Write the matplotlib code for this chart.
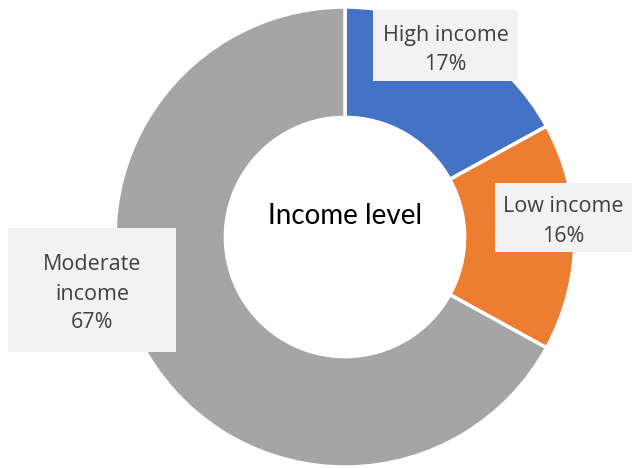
import matplotlib
matplotlib.use("Agg")
import matplotlib.pyplot as plt
from matplotlib.patches import Rectangle

# Dados do gráfico
categorias = ["High income", "Low income", "Moderate income"]
percentuais = [17, 16, 67]
cores = ["#4472C4", "#ED7D31", "#A5A5A5"]
titulo_centro = "Income level"

fig = plt.figure(figsize=(6.35, 4.68), dpi=100)
ax = fig.add_axes([0, 0, 1, 1])

centro = (345, 231)
raio = 230
ax.pie(percentuais, colors=cores, startangle=90, counterclock=False,
       radius=raio, center=centro, frame=True,
       wedgeprops=dict(width=raio * 0.48, edgecolor="white", linewidth=2.5))
ax.set_xlim(0, 635)
ax.set_ylim(0, 468)
ax.set_aspect("equal")
ax.axis("off")

ax.text(centro[0], centro[1] + 21, titulo_centro, ha="center", va="center",
        fontsize=20, family="Lato", color="black")

# Caixas dos rótulos (x0, y0 em pixels a partir do topo, largura, altura)
caixas = [(373, 10, 145, 71), (495, 183, 137, 69), (8, 228, 168, 124)]
textos = ["High income\n17%", "Low income\n16%", "Moderate\nincome\n67%"]
for (x0, y0, w, h), t in zip(caixas, textos):
    ax.add_patch(Rectangle((x0, 468 - y0 - h), w, h, facecolor="#F2F2F2",
                           edgecolor="none", zorder=3))
    ax.text(x0 + w / 2, 468 - y0 - h / 2 - 4, t, ha="center", va="center",
            fontsize=15.5, family="Open Sans", color="#404040",
            linespacing=1.5, zorder=4)

fig.savefig("out.png", dpi=100)
